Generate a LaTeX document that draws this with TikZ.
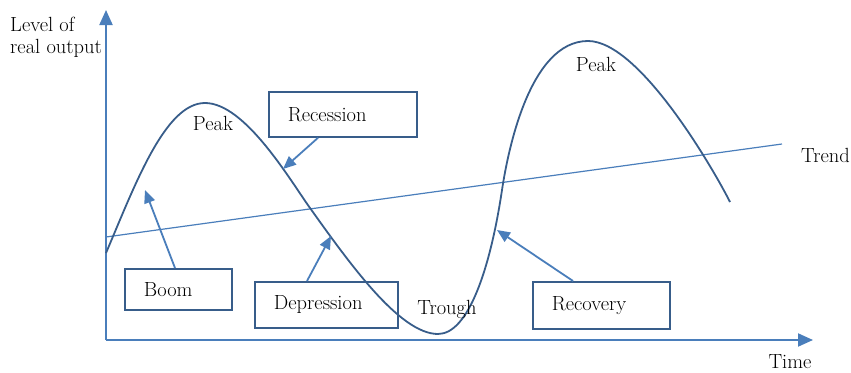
\documentclass[tikz,border=0pt]{standalone}
\usetikzlibrary{arrows.meta}
\definecolor{axisblue}{RGB}{74,126,187}
\definecolor{curveblue}{RGB}{56,93,138}
\tikzset{
  axisline/.style={draw=axisblue, line width=2pt, -{Triangle[length=15pt,width=13pt]}},
  pointer/.style={draw=axisblue, line width=1.8pt, -{Triangle[length=13pt,width=11pt]}},
  stagebox/.style={draw=curveblue, line width=1.8pt, align=left, inner xsep=19pt, inner ysep=0pt, anchor=north west, font=\fontsize{20.5}{23}\selectfont},
  lbl/.style={font=\fontsize{20.5}{23}\selectfont, inner sep=0pt},
}
\begin{document}
\begin{tikzpicture}[x=1pt,y=-1pt]
\useasboundingbox (0,0) rectangle (851,372);
% axes
\coordinate (O) at (106,340);
\coordinate (ytop) at (106,10);
\coordinate (xend) at (813,340);
\draw[axisline] (O) -- (ytop);
\draw[axisline] (O) -- (xend);
\node[lbl, anchor=base west] (ylab1) at (10,31) {Level of};
\node[lbl, anchor=base west] (ylab2) at (10,53) {real output};
\node[lbl, anchor=base] (xlab) at (790,368) {Time};
% trend
\coordinate (t0) at (106,237);
\coordinate (t1) at (782,144);
\draw[axisblue, line width=1.2pt] (t0) -- (t1);
\node[lbl, anchor=west] (trend) at (801,155) {Trend};
% business cycle curve
\coordinate (c0) at (106,253);
\coordinate (cpeak1) at (205,103);
\coordinate (cinf1) at (310,208);
\coordinate (ctrough) at (438,334);
\coordinate (cinf2) at (502,190);
\coordinate (cpeak2) at (588,41);
\coordinate (cend) at (730,202);
\draw[curveblue, line width=1.8pt]
  (c0) .. controls (135,185) and (165,103) .. (cpeak1)
  .. controls (245,103) and (290,180) .. (cinf1)
  .. controls (350,264) and (400,334) .. (ctrough)
  .. controls (468,334) and (490,270) .. (cinf2)
  .. controls (508,150) and (530,41) .. (cpeak2)
  .. controls (640,41) and (715,172) .. (cend);
\node[lbl] (peak1) at (213,123) {Peak};
\node[lbl] (trough) at (447,309) {Trough};
\node[lbl] (peak2) at (596,64) {Peak};
% boxes
\node[stagebox, text width=110pt, minimum height=45pt] (recession) at (268,91) {Recession};
\node[stagebox, text width=69pt, minimum height=41pt] (boom) at (124,268) {Boom};
\node[stagebox, text width=105pt, minimum height=46pt] (depression) at (254,281) {Depression};
\node[stagebox, text width=99pt, minimum height=47pt] (recovery) at (532,281) {Recovery};
% pointers
\coordinate (precession) at (283,169);
\coordinate (pboom) at (145,190);
\coordinate (pdepression) at (331,236);
\coordinate (precovery) at (497,230);
\draw[pointer] (recession.south west) ++(50pt,0) -- (precession);
\draw[pointer] (boom.north west) ++(51pt,0) -- (pboom);
\draw[pointer] (depression.north west) ++(53pt,0) -- (pdepression);
\draw[pointer] (recovery.north west) ++(41pt,0) -- (precovery);
\end{tikzpicture}
\end{document}
